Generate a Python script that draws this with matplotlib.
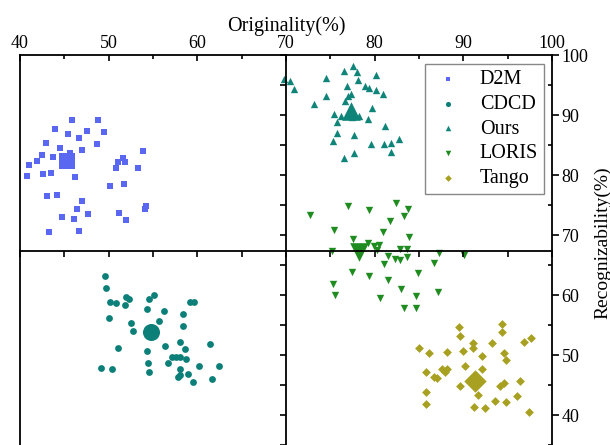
import matplotlib
matplotlib.use('Agg')
import matplotlib.pyplot as plt
from matplotlib.ticker import MultipleLocator

plt.rcParams['font.family'] = ['Liberation Serif', 'DejaVu Serif']

# values (Originality %, Recognizability %)
d2m_x = [45.9, 48.8, 44.0, 47.6, 45.4, 49.5, 46.7, 42.9, 48.7, 44.5, 47.0, 42.5, 45.6, 43.7,
         41.9, 41.0, 40.8, 42.6, 43.5, 46.2, 53.9, 51.6, 51.1, 51.8, 50.8, 53.3, 50.1, 51.7,
         43.0, 44.2, 47.0, 46.4, 47.7, 44.7, 46.1, 54.2, 54.1, 51.2, 52.0, 43.3, 46.7]
d2m_y = [89.2, 89.2, 87.6, 87.4, 86.8, 87.1, 86.1, 85.3, 85.1, 84.5, 84.1, 83.4, 83.6, 83.0,
         82.3, 81.6, 79.8, 80.2, 80.4, 79.7, 84.0, 82.8, 82.1, 82.1, 81.1, 81.1, 78.2, 78.5,
         76.5, 76.7, 75.6, 74.3, 73.5, 73.0, 72.7, 74.9, 74.4, 73.6, 72.5, 70.5, 70.7]

cdcd_x = [49.6, 49.7, 50.1, 50.8, 52.0, 52.3, 51.8, 54.5, 55.1, 50.0, 54.3, 56.2, 58.4, 59.2,
          59.6, 52.5, 52.8, 55.7, 58.4, 51.1, 54.3, 56.4, 58.1, 58.6, 61.4, 57.1, 57.6, 58.0,
          58.7, 54.4, 56.7, 58.0, 60.2, 62.4, 49.1, 50.4, 54.5, 58.0, 57.8, 58.9, 59.5, 61.7]
cdcd_y = [63.2, 61.1, 58.9, 58.7, 59.7, 59.4, 58.3, 59.3, 60.0, 56.2, 57.6, 57.4, 56.9, 58.8,
          58.8, 55.4, 54.0, 55.6, 54.8, 51.2, 50.6, 51.5, 52.2, 51.0, 51.8, 49.7, 49.7, 49.6,
          49.3, 48.7, 48.6, 47.7, 48.1, 48.2, 47.8, 47.6, 47.2, 46.6, 46.3, 46.9, 45.5, 46.0]

ours_x = [69.8, 70.5, 70.9, 74.5, 76.5, 77.6, 78.0, 80.1, 78.1, 76.9, 78.9, 79.4, 80.2, 80.9,
          77.3, 77.0, 74.5, 76.7, 73.2, 79.7, 75.4, 76.2, 78.2, 79.3, 75.8, 77.4, 81.2, 75.8,
          77.7, 75.3, 79.6, 81.1, 81.8, 82.8, 81.8, 77.7, 76.5]
ours_y = [96.0, 95.7, 94.3, 96.1, 97.3, 98.1, 97.2, 96.6, 95.8, 94.8, 94.8, 94.5, 94.2, 93.5,
          93.5, 93.2, 93.1, 92.3, 91.8, 91.2, 90.2, 89.8, 89.9, 89.3, 88.8, 89.7, 88.2, 87.0,
          86.6, 85.7, 85.2, 85.1, 85.3, 86.0, 83.8, 83.7, 82.8]

loris_x = [72.7, 77.0, 79.4, 82.4, 83.8, 83.3, 81.7, 75.4, 80.9, 77.5, 83.9, 79.2, 79.9, 80.5,
           75.2, 80.3, 82.9, 83.6, 87.3, 90.1, 81.5, 82.3, 82.9, 83.7, 86.7, 81.0, 77.4, 79.4,
           84.9, 81.5, 75.3, 75.5, 83.0, 87.1, 80.6, 84.7, 83.3, 84.7]
loris_y = [73.4, 74.8, 74.2, 75.3, 74.3, 73.2, 72.4, 70.9, 70.5, 69.3, 69.6, 68.7, 68.2, 68.3,
           67.3, 67.5, 67.6, 67.6, 67.0, 66.6, 66.5, 66.0, 65.8, 66.3, 65.3, 65.2, 63.9, 63.2,
           63.6, 62.5, 61.9, 60.0, 61.0, 60.5, 59.5, 59.8, 57.8, 57.8]

tango_x = [89.5, 89.6, 94.4, 94.4, 91.1, 93.2, 96.8, 97.6, 85.0, 86.1, 88.2, 90.0, 91.1, 94.6,
           92.1, 94.8, 85.8, 86.7, 87.0, 87.6, 87.9, 88.2, 90.2, 92.1, 89.6, 94.1, 94.6, 96.4,
           91.7, 93.6, 94.8, 96.0, 85.8, 85.8, 91.2, 92.4, 97.4]
tango_y = [54.7, 53.2, 55.1, 53.8, 52.0, 52.0, 52.2, 52.8, 51.1, 50.4, 50.5, 50.6, 51.1, 50.4,
           49.8, 49.1, 47.2, 46.3, 46.1, 47.7, 47.2, 47.6, 48.1, 47.6, 44.8, 44.9, 45.4, 45.6,
           43.3, 42.4, 42.1, 43.1, 43.8, 41.8, 41.3, 41.1, 40.5]

# big centre markers
centre_x = [45.3, 54.8, 77.3, 78.2, 91.3]
centre_y = [82.3, 53.8, 90.7, 67.2, 45.7]

names = ['D2M', 'CDCD', 'Ours', 'LORIS', 'Tango']
colors = ['#5a67f0', '#0b7f78', '#0f857a', '#1f8c1f', '#a8a020']
markers = ['s', 'o', '^', 'v', 'D']
small = [22, 24, 28, 28, 20]
big = [130, 150, 180, 180, 130]
xs = [d2m_x, cdcd_x, ours_x, loris_x, tango_x]
ys = [d2m_y, cdcd_y, ours_y, loris_y, tango_y]

fig = plt.figure(figsize=(6.1, 4.45), dpi=100)
rect = [20 / 610, 0.0, 532 / 610, 390 / 445]
ax = fig.add_axes(rect)

for i in range(5):
    ax.scatter(xs[i], ys[i], s=small[i], marker=markers[i], color=colors[i],
               linewidths=0, label=names[i], zorder=3)
    ax.scatter(centre_x[i], centre_y[i], s=big[i], marker=markers[i], color=colors[i],
               linewidths=0, zorder=4)

ax.set_xlim(40, 100)
ax.set_ylim(35, 100)

for s in ['top', 'right', 'left']:
    ax.spines[s].set_linewidth(1.3)
ax.spines['bottom'].set_visible(False)

ax.xaxis.set_major_locator(MultipleLocator(10))
ax.xaxis.set_minor_locator(MultipleLocator(5))
ax.yaxis.set_major_locator(MultipleLocator(10))
ax.yaxis.set_minor_locator(MultipleLocator(5))
ax.tick_params(axis='x', which='both', top=True, bottom=False, labeltop=True,
               labelbottom=False, direction='in', labelsize=13, pad=2, width=1.2)
ax.tick_params(axis='x', which='major', length=4)
ax.tick_params(axis='x', which='minor', length=3)
ax.tick_params(axis='y', which='both', left=False, right=True, labelleft=False,
               labelright=True, labelsize=13, width=1.2)
ax.tick_params(axis='y', which='major', direction='out', length=5, pad=2)
ax.tick_params(axis='y', which='minor', direction='in', length=3)

ax.xaxis.set_label_position('top')
ax.set_xlabel('Originality(%)', fontsize=14.5, labelpad=3)
ax.yaxis.set_label_position('right')
ax.set_ylabel('Recognizability(%)', fontsize=14)
ax.yaxis.set_label_coords(1.079, 0.518)

leg = ax.legend(loc='upper right', bbox_to_anchor=(0.985, 0.977), borderaxespad=0,
                fontsize=14.5, fancybox=False, edgecolor='#888888', framealpha=1,
                markerscale=0.75, handletextpad=0.8, labelspacing=0.28, borderpad=0.3,
                handlelength=1.6)
leg.get_frame().set_linewidth(1.0)

# cross lines at x=70 and y~67.3 with their own ticks
ax2 = fig.add_axes(rect)
ax2.set_xlim(40, 100)
ax2.set_ylim(35, 100)
ax2.patch.set_visible(False)
ax2.spines['top'].set_visible(False)
ax2.spines['right'].set_visible(False)
ax2.spines['left'].set_position(('data', 70))
ax2.spines['bottom'].set_position(('data', 67.3))
ax2.spines['left'].set_linewidth(1.3)
ax2.spines['bottom'].set_linewidth(1.3)
ax2.xaxis.set_major_locator(MultipleLocator(5))
ax2.yaxis.set_major_locator(MultipleLocator(5))
ax2.tick_params(axis='both', direction='out', length=4, width=1.2,
                labelbottom=False, labelleft=False)

fig.savefig('out.png', dpi=100)
